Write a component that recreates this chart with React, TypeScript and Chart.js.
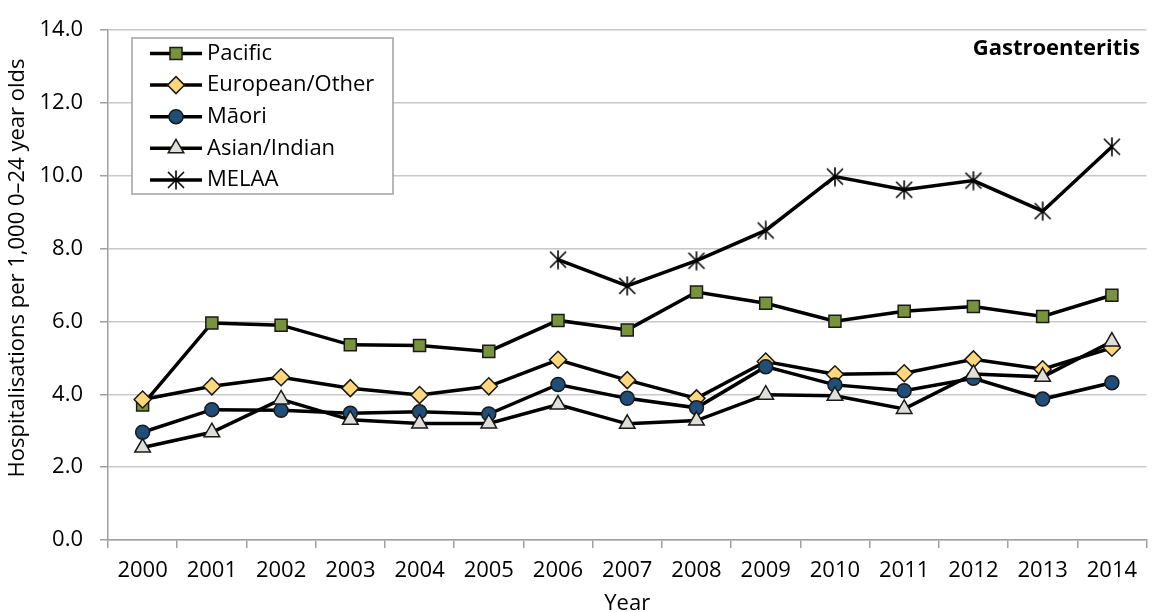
import React, { useEffect, useRef } from 'react';
import { Chart, registerables } from 'chart.js';
import { drawPoint } from 'chart.js/helpers';

Chart.register(...registerables);

const FONT = '"Open Sans", "Noto Sans", sans-serif';

const years = ['2000', '2001', '2002', '2003', '2004', '2005', '2006', '2007', '2008', '2009', '2010', '2011', '2012', '2013', '2014'];
const seriesNames = ['Pacific', 'European/Other', 'Māori', 'Asian/Indian', 'MELAA'];
const pacific = [3.71, 5.96, 5.9, 5.36, 5.34, 5.18, 6.03, 5.77, 6.81, 6.5, 6.01, 6.28, 6.41, 6.14, 6.72];
const european = [3.86, 4.22, 4.47, 4.17, 3.98, 4.22, 4.95, 4.39, 3.89, 4.9, 4.55, 4.58, 4.96, 4.69, 5.28];
const maori = [2.96, 3.58, 3.56, 3.48, 3.52, 3.46, 4.27, 3.89, 3.63, 4.76, 4.26, 4.1, 4.44, 3.87, 4.32];
const asian = [2.54, 2.96, 3.86, 3.3, 3.2, 3.2, 3.72, 3.19, 3.28, 3.99, 3.96, 3.6, 4.56, 4.48, 5.45];
const melaa = [null, null, null, null, null, null, 7.7, 6.98, 7.67, 8.5, 9.98, 9.62, 9.87, 9.03, 10.8];
const yMin = 0;
const yMax = 14;
const yStep = 2;
const yTitle = 'Hospitalisations per 1,000 0–24 year olds';
const xTitle = 'Year';
const panelTitle = 'Gastroenteritis';

const AXIS = '#A0A0A0';
const GRID = '#C8C8C8';

function makeStar(): HTMLCanvasElement {
  const c = document.createElement('canvas');
  c.width = 20;
  c.height = 20;
  const g = c.getContext('2d')!;
  g.strokeStyle = '#000';
  g.lineWidth = 1.6;
  g.beginPath();
  g.moveTo(2, 2);
  g.lineTo(18, 18);
  g.moveTo(18, 2);
  g.lineTo(2, 18);
  g.moveTo(10, 0.5);
  g.lineTo(10, 19.5);
  g.stroke();
  return c;
}

const overlayPlugin = {
  id: 'overlay',
  afterDraw(chart: any) {
    const ctx = chart.ctx as CanvasRenderingContext2D;
    // y axis title
    ctx.save();
    ctx.translate(18, 268);
    ctx.rotate(-Math.PI / 2);
    ctx.font = `22px ${FONT}`;
    ctx.fillStyle = '#000';
    ctx.textAlign = 'center';
    ctx.textBaseline = 'middle';
    ctx.fillText(yTitle, 0, 0);
    ctx.restore();

    // panel title
    ctx.save();
    ctx.font = `bold 22px ${FONT}`;
    ctx.fillStyle = '#000';
    ctx.textAlign = 'right';
    ctx.textBaseline = 'alphabetic';
    ctx.fillText(panelTitle, 1140, 55);
    ctx.restore();

    // legend
    ctx.save();
    ctx.fillStyle = '#fff';
    ctx.fillRect(132, 38, 261, 156);
    ctx.strokeStyle = AXIS;
    ctx.lineWidth = 1.5;
    ctx.strokeRect(132, 38, 261, 156);
    chart.data.datasets.forEach((ds: any, i: number) => {
      const y = 53.5 + i * 31.6;
      ctx.strokeStyle = '#000';
      ctx.lineWidth = 3.5;
      ctx.beginPath();
      ctx.moveTo(150, y);
      ctx.lineTo(202, y);
      ctx.stroke();
      ctx.fillStyle = ds.pointBackgroundColor;
      ctx.strokeStyle = ds.pointBorderColor;
      ctx.lineWidth = ds.pointBorderWidth;
      drawPoint(ctx, { pointStyle: ds.pointStyle, radius: ds.pointRadius, borderWidth: ds.pointBorderWidth, rotation: 0 } as any, 176, y);
      ctx.font = `22px ${FONT}`;
      ctx.fillStyle = '#000';
      ctx.textAlign = 'left';
      ctx.textBaseline = 'middle';
      ctx.fillText(ds.label, 207, y);
    });
    ctx.restore();
  },
};

export default function App() {
  const ref = useRef<HTMLCanvasElement>(null);
  useEffect(() => {
    if (!ref.current) return;
    const star = makeStar();
    const base = { borderColor: '#000', borderWidth: 3.5, pointBorderColor: '#1A1A1A', pointBorderWidth: 1.5, tension: 0, spanGaps: false };
    const chart = new Chart(ref.current, {
      type: 'line',
      data: {
        labels: years,
        datasets: [
          { ...base, label: seriesNames[0], data: pacific, pointStyle: 'rect', pointRadius: 8.5, pointBackgroundColor: '#77933C', order: 5 },
          { ...base, label: seriesNames[1], data: european, pointStyle: 'rectRot', pointRadius: 8.5, pointBackgroundColor: '#FFD87E', order: 4 },
          { ...base, label: seriesNames[2], data: maori, pointStyle: 'circle', pointRadius: 7, pointBackgroundColor: '#1F4E79', order: 3 },
          { ...base, label: seriesNames[3], data: asian, pointStyle: 'triangle', pointRadius: 9, pointBackgroundColor: '#E0DED9', order: 2 },
          { ...base, label: seriesNames[4], data: melaa, pointStyle: star as any, pointRadius: 9, pointBackgroundColor: '#000', pointBorderColor: '#000', order: 1 },
        ] as any,
      },
      options: {
        animation: false,
        responsive: true,
        maintainAspectRatio: false,
        layout: { padding: { top: 26, left: 0, right: 0, bottom: 0 } },
        plugins: { legend: { display: false }, tooltip: { enabled: false }, title: { display: false } },
        scales: {
          x: {
            type: 'category',
            offset: true,
            grid: { display: true, drawOnChartArea: false, drawTicks: true, tickLength: 8, tickColor: AXIS, offset: true, lineWidth: 1.5 },
            border: { display: true, color: AXIS, width: 1.5 },
            ticks: { font: { family: FONT, size: 22 }, color: '#000', padding: 10, maxRotation: 0, autoSkip: false },
            title: { display: true, text: xTitle, font: { family: FONT, size: 22 }, color: '#000', padding: { top: 0, bottom: 3 } },
            afterFit: (s: any) => { s.height = 80; },
          },
          y: {
            min: yMin,
            max: yMax,
            ticks: { stepSize: yStep, callback: (v: any) => Number(v).toFixed(1), font: { family: FONT, size: 22 }, color: '#000', padding: 17 },
            grid: { color: GRID, lineWidth: 1.5, tickLength: 8, tickColor: AXIS },
            border: { display: true, color: AXIS, width: 1.5 },
            afterFit: (s: any) => { s.width = 108; },
          },
        },
      } as any,
      plugins: [overlayPlugin],
    });
    return () => chart.destroy();
  }, []);
  return (
    <div style={{ position: 'fixed', left: 0, top: 0, width: 1154, height: 612, overflow: 'hidden', background: '#fff' }}>
      <div style={{ position: 'absolute', left: 0, top: 0, width: 1157, height: 620 }}>
        <canvas ref={ref} />
      </div>
    </div>
  );
}
